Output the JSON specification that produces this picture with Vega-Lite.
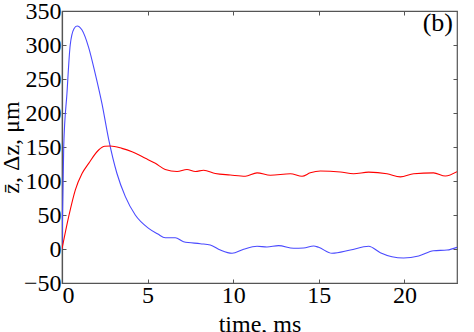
{
  "$schema": "https://vega.github.io/schema/vega-lite/v6.json",
  "width": 395,
  "height": 272,
  "autosize": {"type": "none"},
  "padding": {"left": 62, "top": 11, "right": 17, "bottom": 49},
  "background": "white",
  "config": {"view": {"stroke": "#555", "strokeWidth": 1.2}},
  "data": {"values": [
      {"series": "dz", "t": 0, "v": 0},
      {"series": "dz", "t": 0.1, "v": 150},
      {"series": "dz", "t": 0.29, "v": 229},
      {"series": "dz", "t": 0.48, "v": 300},
      {"series": "dz", "t": 0.7, "v": 324},
      {"series": "dz", "t": 0.88, "v": 328},
      {"series": "dz", "t": 1.17, "v": 322},
      {"series": "dz", "t": 1.55, "v": 297},
      {"series": "dz", "t": 1.94, "v": 258},
      {"series": "dz", "t": 2.34, "v": 213},
      {"series": "dz", "t": 2.72, "v": 162},
      {"series": "dz", "t": 3.21, "v": 111},
      {"series": "dz", "t": 3.7, "v": 77},
      {"series": "dz", "t": 4.28, "v": 50},
      {"series": "dz", "t": 5.06, "v": 30.4},
      {"series": "dz", "t": 5.6, "v": 22},
      {"series": "dz", "t": 6.03, "v": 16.5},
      {"series": "dz", "t": 6.62, "v": 16.6},
      {"series": "dz", "t": 7.1, "v": 10.7},
      {"series": "dz", "t": 8.08, "v": 7.8},
      {"series": "dz", "t": 8.66, "v": 5.9},
      {"series": "dz", "t": 9.25, "v": -1.5},
      {"series": "dz", "t": 9.93, "v": -6.3},
      {"series": "dz", "t": 10.61, "v": -0.4},
      {"series": "dz", "t": 11.39, "v": 4},
      {"series": "dz", "t": 11.97, "v": 3},
      {"series": "dz", "t": 12.65, "v": 4.9},
      {"series": "dz", "t": 13.53, "v": 1},
      {"series": "dz", "t": 14.11, "v": 1.5},
      {"series": "dz", "t": 14.7, "v": 4.4},
      {"series": "dz", "t": 14.99, "v": 2.5},
      {"series": "dz", "t": 15.77, "v": -6.3},
      {"series": "dz", "t": 16.84, "v": -1.5},
      {"series": "dz", "t": 17.91, "v": 4},
      {"series": "dz", "t": 18.59, "v": -5.4},
      {"series": "dz", "t": 19.27, "v": -11.3},
      {"series": "dz", "t": 19.95, "v": -13.2},
      {"series": "dz", "t": 20.83, "v": -10.3},
      {"series": "dz", "t": 21.7, "v": -2.5},
      {"series": "dz", "t": 22.49, "v": -1.5},
      {"series": "dz", "t": 23.07, "v": 2.5},
      {"series": "zbar", "t": 0, "v": 0},
      {"series": "zbar", "t": 0.39, "v": 47.5},
      {"series": "zbar", "t": 0.78, "v": 87},
      {"series": "zbar", "t": 1.17, "v": 111},
      {"series": "zbar", "t": 1.56, "v": 126},
      {"series": "zbar", "t": 2.14, "v": 145.6},
      {"series": "zbar", "t": 2.5, "v": 151},
      {"series": "zbar", "t": 2.82, "v": 151.5},
      {"series": "zbar", "t": 3.5, "v": 148},
      {"series": "zbar", "t": 4.09, "v": 143},
      {"series": "zbar", "t": 4.87, "v": 133.4},
      {"series": "zbar", "t": 5.45, "v": 126},
      {"series": "zbar", "t": 6.03, "v": 117},
      {"series": "zbar", "t": 6.72, "v": 114},
      {"series": "zbar", "t": 7.3, "v": 117},
      {"series": "zbar", "t": 7.79, "v": 114},
      {"series": "zbar", "t": 8.27, "v": 115.7},
      {"series": "zbar", "t": 8.95, "v": 111},
      {"series": "zbar", "t": 9.83, "v": 108.8},
      {"series": "zbar", "t": 10.71, "v": 106.9},
      {"series": "zbar", "t": 11.39, "v": 112},
      {"series": "zbar", "t": 12.17, "v": 108.4},
      {"series": "zbar", "t": 13.34, "v": 110.7},
      {"series": "zbar", "t": 14.02, "v": 107},
      {"series": "zbar", "t": 14.5, "v": 112},
      {"series": "zbar", "t": 15.09, "v": 114.7},
      {"series": "zbar", "t": 16.26, "v": 113.2},
      {"series": "zbar", "t": 17.03, "v": 110.7},
      {"series": "zbar", "t": 17.91, "v": 113},
      {"series": "zbar", "t": 18.98, "v": 110.7},
      {"series": "zbar", "t": 19.76, "v": 106},
      {"series": "zbar", "t": 20.54, "v": 110.7},
      {"series": "zbar", "t": 21.7, "v": 112},
      {"series": "zbar", "t": 22.39, "v": 107.4},
      {"series": "zbar", "t": 23.07, "v": 113.7}
  ]},
  "layer": [
    {
      "mark": {"type": "line", "interpolate": "monotone", "strokeWidth": 1.1, "clip": true},
      "encoding": {
        "x": {
          "field": "t", "type": "quantitative",
          "scale": {"domain": [0, 23.07], "nice": false, "zero": false},
          "axis": {"orient": "bottom", "values": [0, 5, 10, 15, 20], "title": "time, ms", "grid": false,
            "domainColor": "#555", "domainWidth": 1.2, "tickColor": "#555", "tickSize": -4, "tickWidth": 1,
            "labelPadding": 4, "titlePadding": 5,
            "labelFont": "Liberation Serif", "labelFontSize": 24, "labelColor": "black",
            "titleFont": "Liberation Serif", "titleFontSize": 24, "titleFontWeight": "normal", "titleColor": "black"}
        },
        "y": {
          "field": "v", "type": "quantitative",
          "scale": {"domain": [-50, 350], "nice": false, "zero": false},
          "axis": {"orient": "left", "values": [-50, 0, 50, 100, 150, 200, 250, 300, 350], "title": "z\u0304, \u0394z, \u03bcm", "grid": false,
            "domainColor": "#555", "domainWidth": 1.2, "tickColor": "#555", "tickSize": -4, "tickWidth": 1,
            "labelPadding": 5, "titlePadding": 0,
            "labelFont": "Liberation Serif", "labelFontSize": 24, "labelColor": "black",
            "titleFont": "Liberation Serif", "titleFontSize": 24, "titleFontWeight": "normal", "titleColor": "black"}
        },
        "color": {
          "field": "series", "type": "nominal",
          "scale": {"domain": ["dz", "zbar"], "range": ["#4a4aff", "#ff0000"]},
          "legend": null
        }
      }
    },
    {
      "data": {"values": [{"label": "(b)"}]},
      "mark": {"type": "text", "align": "right", "baseline": "top", "font": "Liberation Serif", "fontSize": 26, "dx": -4, "dy": -1},
      "encoding": {
        "text": {"field": "label"},
        "x": {"datum": 23.07, "type": "quantitative", "axis": {"orient": "top", "values": [5, 10, 15, 20], "labels": false, "domain": false, "grid": false, "title": null, "tickColor": "#555", "tickSize": -4, "tickWidth": 1}},
        "y": {"datum": 350, "type": "quantitative", "axis": {"orient": "right", "values": [-50, 0, 50, 100, 150, 200, 250, 300, 350], "labels": false, "domain": false, "grid": false, "title": null, "tickColor": "#555", "tickSize": -4, "tickWidth": 1}}
      }
    }
  ],
  "resolve": {"axis": {"x": "independent", "y": "independent"}}
}
